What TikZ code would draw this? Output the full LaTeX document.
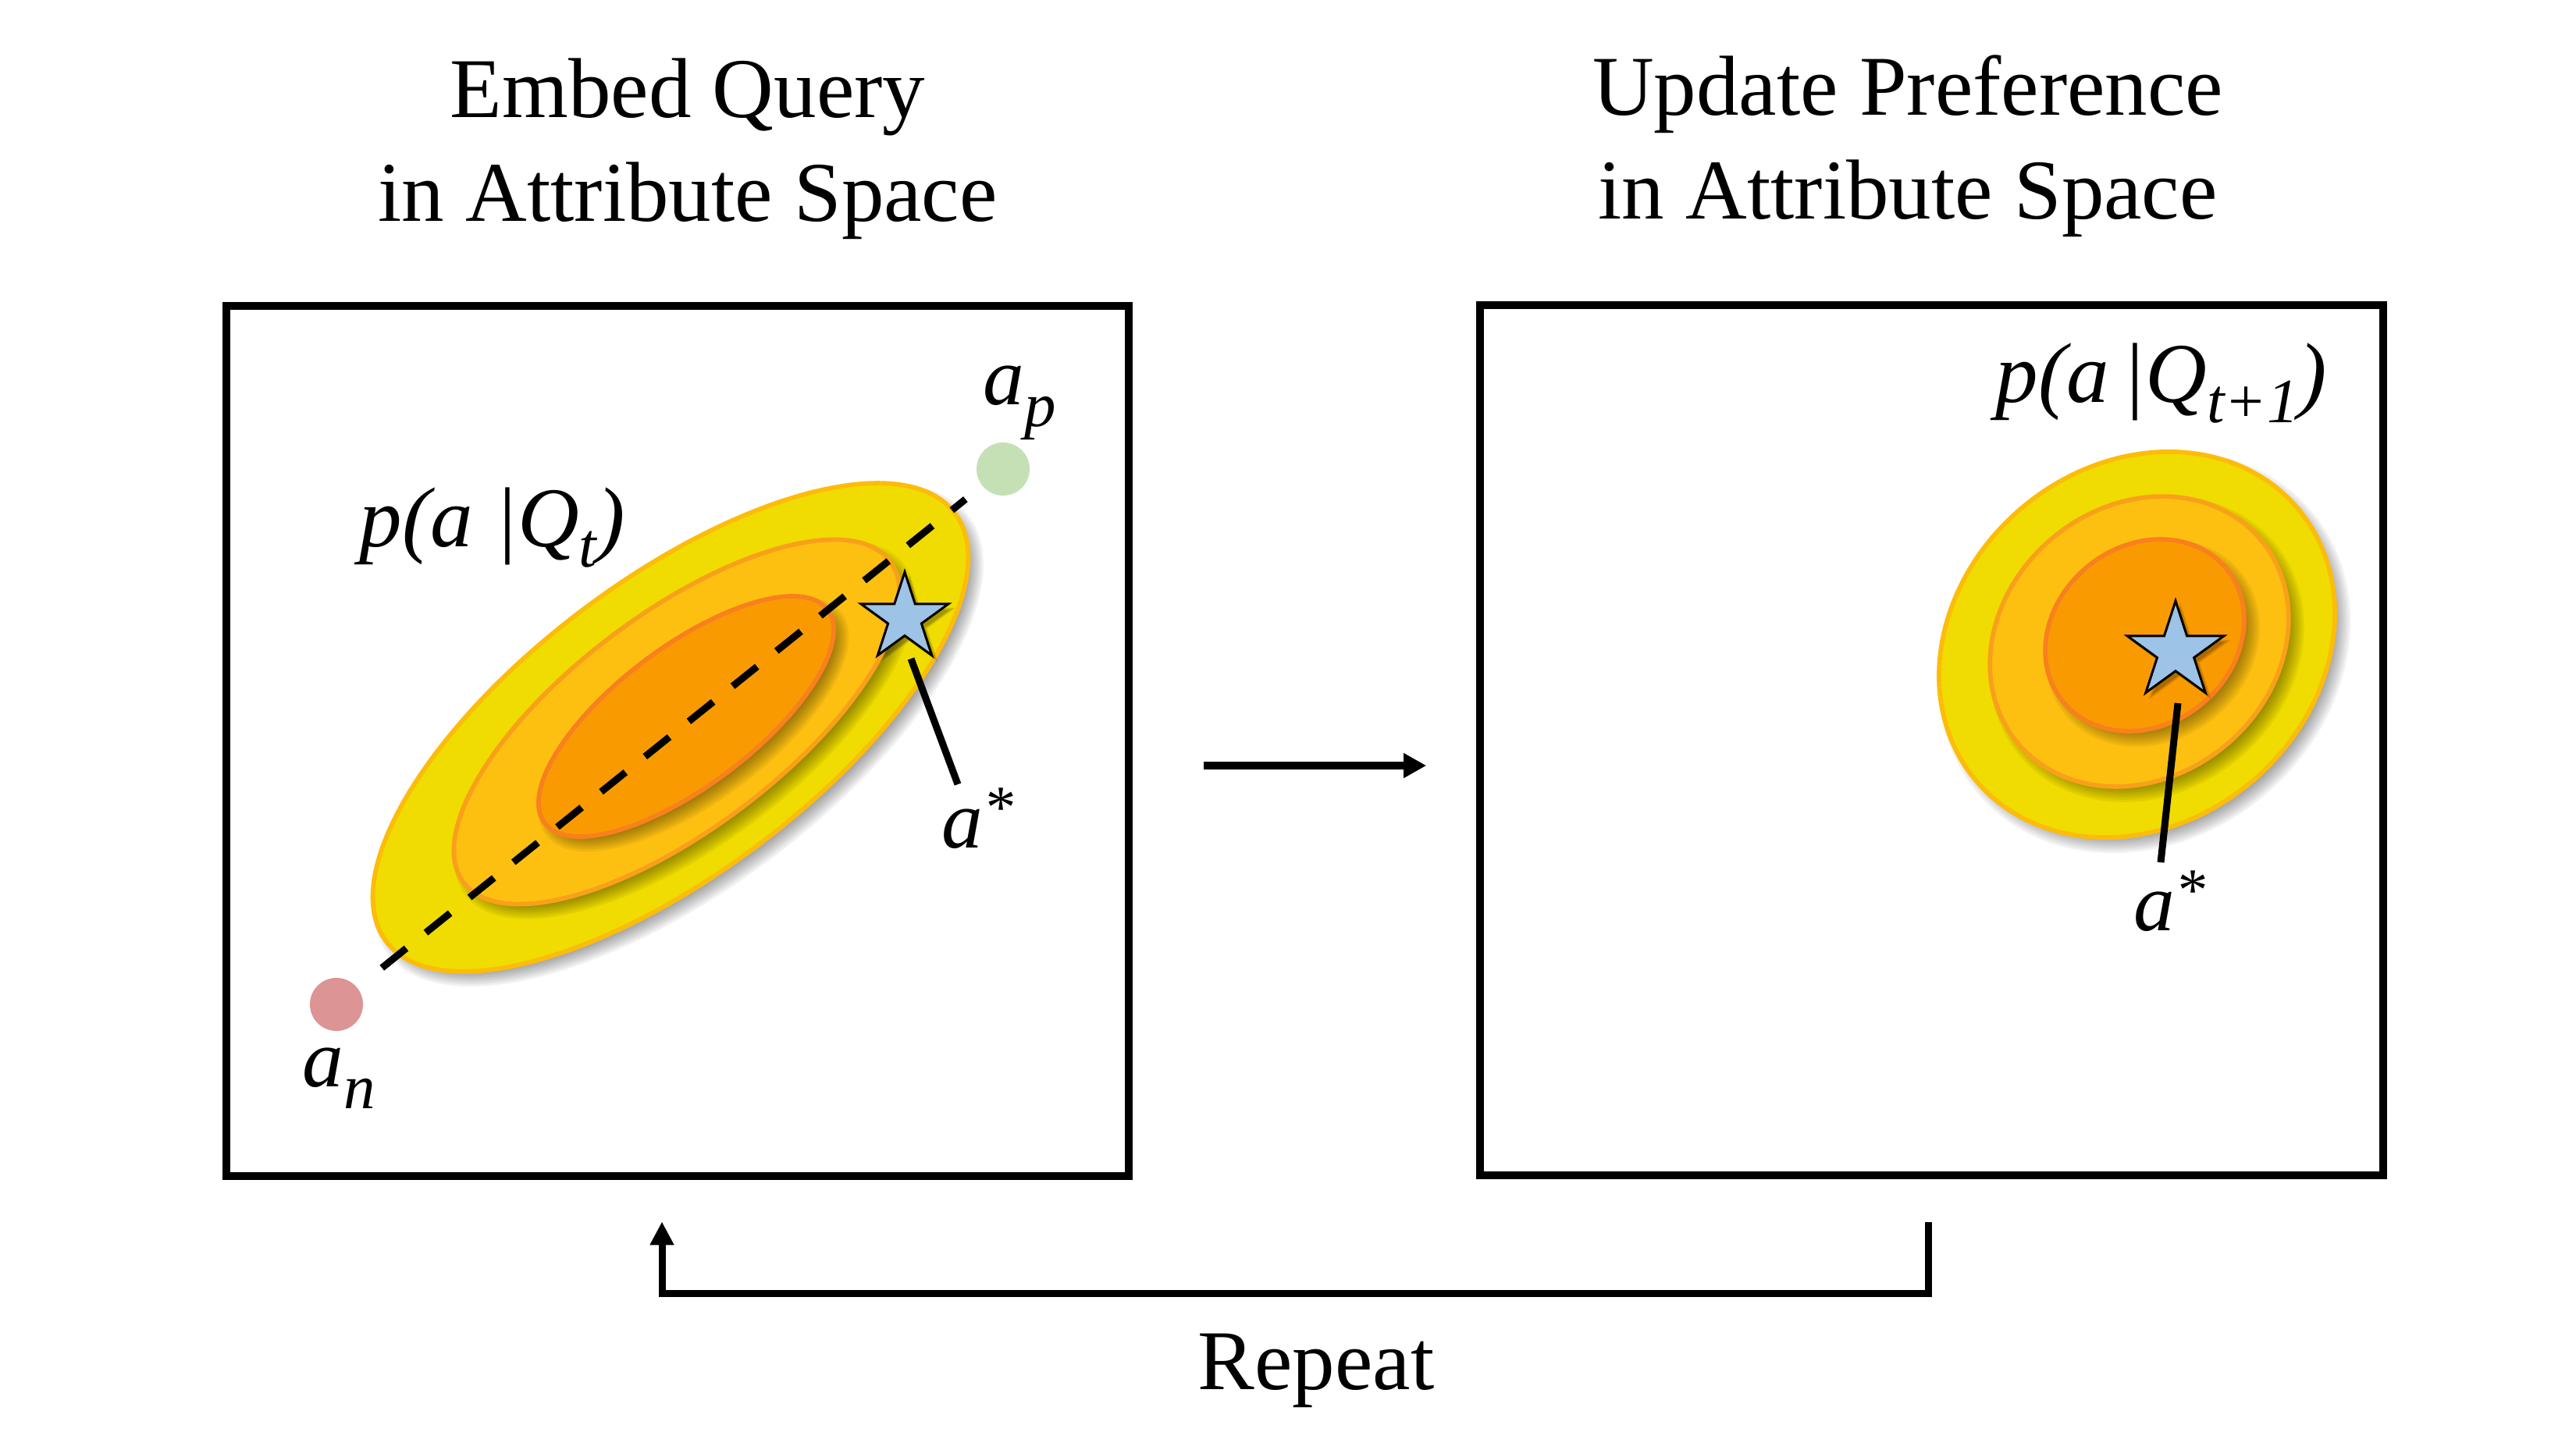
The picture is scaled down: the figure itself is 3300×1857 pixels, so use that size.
\documentclass[tikz,border=0pt]{standalone}
\usepackage{fontspec}
\setmainfont{Liberation Serif}
\usetikzlibrary{arrows.meta,calc}
\definecolor{yelfill}{RGB}{240,220,0}
\definecolor{yelline}{RGB}{252,188,10}
\definecolor{midfill}{RGB}{253,192,16}
\definecolor{midline}{RGB}{249,160,27}
\definecolor{innfill}{RGB}{249,155,0}
\definecolor{innline}{RGB}{248,128,30}
\definecolor{starfill}{RGB}{157,195,230}
\definecolor{ptgreen}{RGB}{198,224,182}
\definecolor{ptred}{RGB}{221,148,148}
% blurred drop shadow of a rotated ellipse: cx, cy, a, b (px), angle
\newcommand{\blurell}[5]{%
  \foreach \k in {1,...,8}{%
    \fill[black,opacity=0.055,shift={(#1+10,#2+10)},rotate=#5]
      (0,0) ellipse [x radius={(#3+13-3*\k)*0.01cm}, y radius={(#4+13-3*\k)*0.01cm}];
  }}
% fill, line, cx, cy, a, b, angle
\newcommand{\ovalshape}[7]{%
  \blurell{#3}{#4}{#5}{#6}{#7}%
  \filldraw[fill=#1,draw=#2,line width=0.058cm,shift={(#3,#4)},rotate=#7]
    (0,0) ellipse [x radius={#5*0.01cm}, y radius={#6*0.01cm}];}
\newcommand{\starpath}[2]{(90:#1) -- (126:#2) -- (162:#1) -- (198:#2) -- (234:#1) -- (270:#2) -- (306:#1) -- (342:#2) -- (18:#1) -- (54:#2) -- cycle}
\newcommand{\starshape}[4]{%
  \foreach \k in {1,...,6}{\fill[black,opacity=0.06,shift={(#1+6,#2+6)},scale={1.10-0.035*\k}] \starpath{#3}{#4};}
  \filldraw[fill=starfill,draw=black,line width=0.03cm,shift={(#1,#2)}] \starpath{#3}{#4};}
\newcommand{\lsub}[1]{\raisebox{-0.24em}{\fontsize{23}{23}\selectfont #1}}
\newcommand{\psub}[1]{\raisebox{-0.27em}{\fontsize{23}{23}\selectfont #1}}
\newcommand{\supast}{\raisebox{0.24em}{\fontsize{22}{22}\selectfont *}}
\begin{document}
\begin{tikzpicture}[x=0.01cm,y=-0.01cm,
  box/.style={draw=black,line width=0.1cm,minimum width=11.56cm,minimum height=11.15cm,inner sep=0,outer sep=0},
  title/.style={font=\fontsize{31}{37}\selectfont,anchor=base,inner sep=0},
  lab/.style={font=\fontsize{31}{37}\selectfont\itshape,anchor=base west,inner sep=0},
  ptlab/.style={font=\fontsize{30}{36}\selectfont\itshape,anchor=base west,inner sep=0},
  dot/.style={circle,minimum size=0.68cm,inner sep=0},
  arr/.style={line width=0.1cm,-{Triangle[length=0.29cm,width=0.30cm]}},
  loop/.style={line width=0.09cm,-{Triangle[length=0.30cm,width=0.29cm]}},
  ptr/.style={line width=0.09cm},
  dashline/.style={line width=0.09cm,dash pattern=on 0.40cm off 0.32cm}
]
\useasboundingbox (0,0) rectangle (3300,1857);

% boxes
\node[box] (L) at (868,949.5) {};
\node[box] (R) at (2474.5,948.5) {};

% titles
\node[title] (t1a) at (881,150) {Embed Query};
\node[title] (t1b) at (881,283) {in Attribute Space};
\node[title] (t2a) at (2444,147) {Update Preference};
\node[title] (t2b) at (2444,280) {in Attribute Space};

% left distribution
\ovalshape{yelfill}{yelline}{859}{932}{456}{188}{37}
\ovalshape{midfill}{midline}{867}{925}{342}{138}{37}
\ovalshape{innfill}{innline}{879}{918}{227}{89}{37}

\node[dot,fill=ptgreen] (ap) at (1285,601) {};
\node[dot,fill=ptred] (an) at (431,1287) {};
\draw[dashline,shorten <=0.40cm,shorten >=0.27cm] (an) -- (ap);

\starshape{1159}{792}{0.59cm}{0.225cm}
\coordinate (s1) at (1159,792);
\draw[ptr] ($(s1)+(8,52)$) -- ($(s1)+(68,213)$);

\node[lab] (pq1) at (460,700) {p(a |Q\lsub{t})};
\node[ptlab] (lap) at (1259,518) {a\psub{p}};
\node[ptlab] (lan) at (387,1392) {a\psub{n}};
\node[ptlab] (las1) at (1206,1086) {a\supast};

% right distribution
\ovalshape{yelfill}{yelline}{2737.5}{826}{270}{229}{40.5}
\ovalshape{midfill}{midline}{2740.5}{822}{203}{173}{39.8}
\ovalshape{innfill}{innline}{2747.5}{814}{135}{114.5}{38.7}

\starshape{2787}{835}{0.65cm}{0.248cm}
\coordinate (s2) at (2787,835);
\draw[ptr] ($(s2)+(3,66)$) -- ($(s2)+(-19,270)$);

\node[lab] (pq2) at (2556,515) {p(a\hspace{0.15em}|Q\lsub{t+1})};
\node[ptlab] (las2) at (2733,1192) {a\supast};

% connectors
\draw[arr] ($(L.east)+(96,31.5)$) -- ($(R.west)+(-69,32.5)$);
\draw[loop] ($(R.south)+(-4.5,60)$) -- ++(0,91) -| ($(L.south)+(-20,58)$);
\node[title] (rep) at (1686,1780) {Repeat};
\end{tikzpicture}
\end{document}
